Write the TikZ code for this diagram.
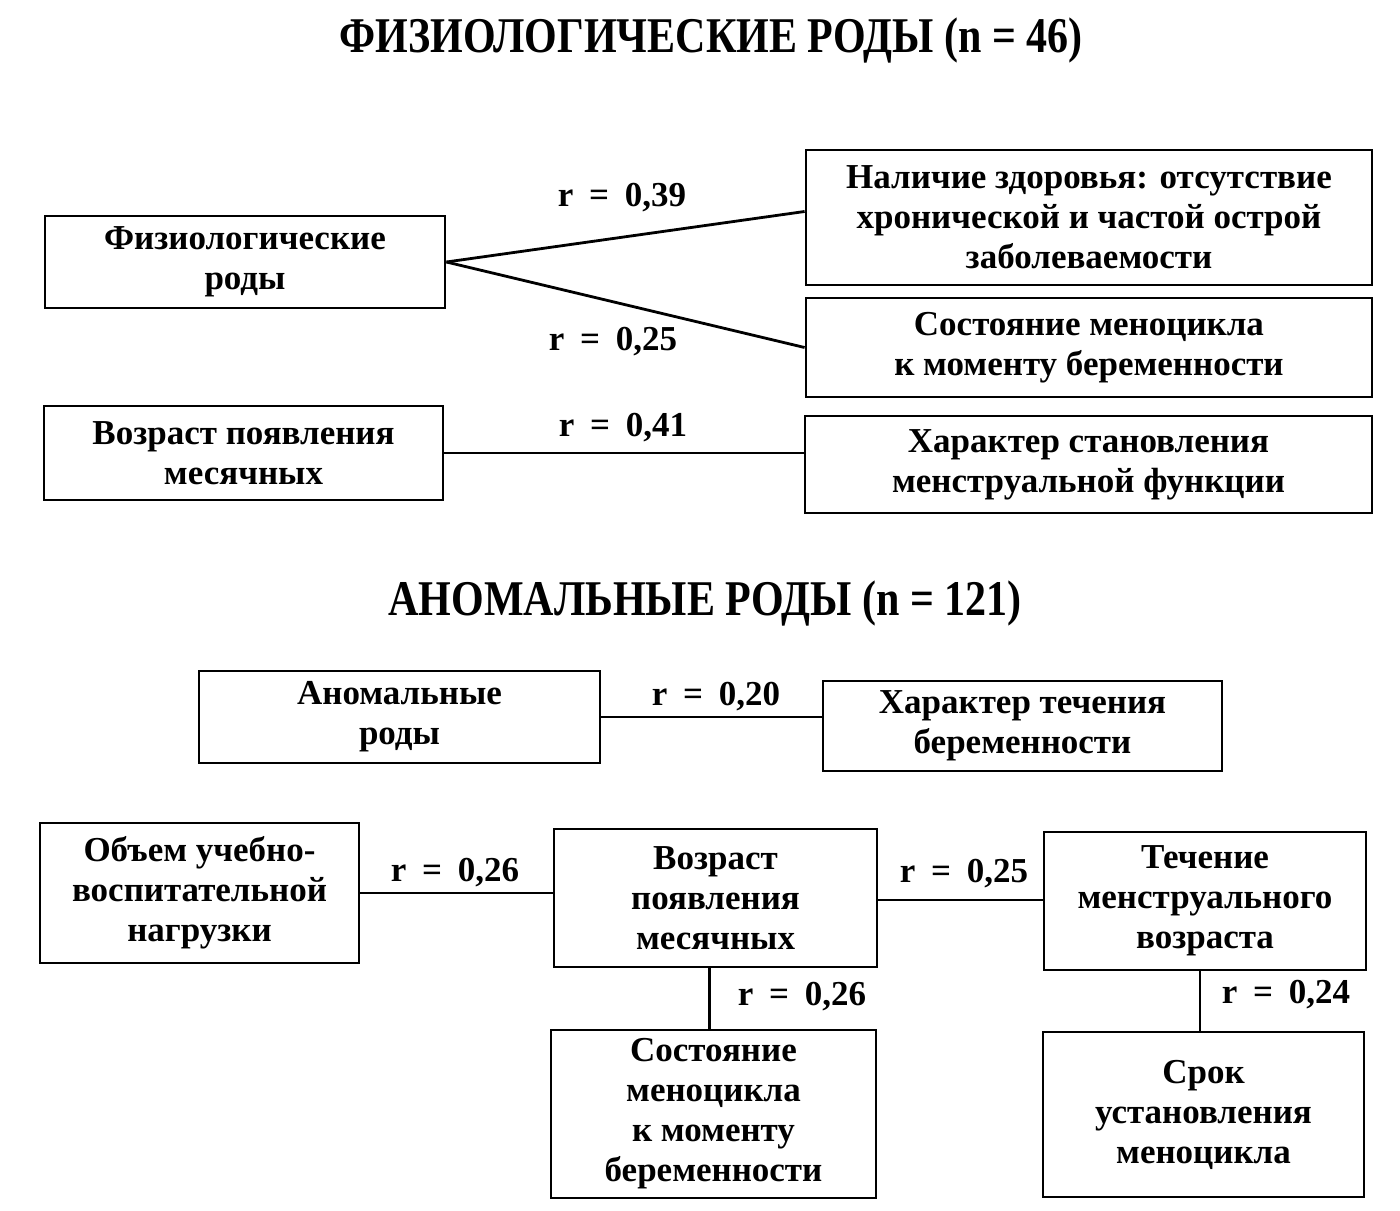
\documentclass[tikz,border=0pt]{standalone}
\usepackage{fontspec}
\setmainfont{Liberation Serif}
\newfontfamily\titlefont{Liberation Serif Bold}[FakeStretch=0.84]
\newcommand{\rr}[1]{r\hspace{0.45em}=\hspace{0.45em}#1}
\begin{document}
\begin{tikzpicture}[x=1pt,y=-1pt,
  box/.style={draw,line width=2.8pt,align=center,inner sep=0pt,
    font={\fontsize{35}{40}\selectfont\bfseries}},
  lbl/.style={font={\fontsize{35}{40}\selectfont\bfseries},inner sep=0pt},
  ttl/.style={font={\titlefont\fontsize{50}{56}\selectfont},inner sep=0pt},
  conn/.style={line width=2.8pt}]
\useasboundingbox (0,0) rectangle (1400,1210);
\fill[white] (0,0) rectangle (1400,1210);

\node[ttl] (t1) at (711,40) {ФИЗИОЛОГИЧЕСКИЕ РОДЫ (n = 46)};
\node[ttl] (t2) at (705,603) {АНОМАЛЬНЫЕ РОДЫ (n = 121)};

\node[box,minimum width=400,minimum height=92] (A) at (245,262) {Физиологические\\роды};
\node[box,minimum width=566,minimum height=135] (B) at (1089,217.5) {Наличие здоровья: отсутствие\\хронической и частой острой\\заболеваемости};
\node[box,minimum width=566,minimum height=99] (C) at (1089,347.5) {Состояние меноцикла\\к моменту беременности};
\node[box,minimum width=399,minimum height=94] (D) at (243.5,453) {Возраст появления\\месячных};
\node[box,minimum width=567,minimum height=97] (E) at (1088.5,464.5) {Характер становления\\менструальной функции};

\node[box,minimum width=401,minimum height=92] (F) at (399.5,717) {Аномальные\\роды};
\node[box,minimum width=399,minimum height=90] (G) at (1022.5,726) {Характер течения\\беременности};

\node[box,minimum width=319,minimum height=140] (H) at (199.5,893) {Объем учебно-\\воспитательной\\нагрузки};
\node[box,minimum width=323,minimum height=138] (I) at (715.5,898) {Возраст\\появления\\месячных};
\node[box,minimum width=322,minimum height=138] (J) at (1205,901) {Течение\\менструального\\возраста};
\node[box,minimum width=325,minimum height=168] (K) at (713.5,1114) {Состояние\\меноцикла\\к моменту\\беременности};
\node[box,minimum width=321,minimum height=165] (L) at (1203.5,1114.5) {Срок\\установления\\меноцикла};

\draw[conn] (A.east) -- ([yshift=6pt]B.west);
\draw[conn] (A.east) -- (C.west);
\draw[conn] (D.east) -- (D.east -| E.west);
\draw[conn] (F.east) -- (F.east -| G.west);
\draw[conn] (H.east) -- (H.east -| I.west);
\draw[conn] ([yshift=-2pt]I.east) -- ([yshift=-2pt]I.east -| J.west);
\draw[conn] ([xshift=-6pt]I.south) -- ([xshift=-6pt]I.south |- K.north);
\draw[conn] ([xshift=-5pt]J.south) -- ([xshift=-5pt]J.south |- L.north);

\node[lbl] (l1) at (622,198) {\rr{0,39}};
\node[lbl] (l2) at (613,342) {\rr{0,25}};
\node[lbl] (l3) at (623,428) {\rr{0,41}};
\node[lbl] (l4) at (716,697) {\rr{0,20}};
\node[lbl] (l5) at (455,873) {\rr{0,26}};
\node[lbl] (l6) at (964,874) {\rr{0,25}};
\node[lbl] (l7) at (802,997) {\rr{0,26}};
\node[lbl] (l8) at (1286,995) {\rr{0,24}};
\end{tikzpicture}
\end{document}
